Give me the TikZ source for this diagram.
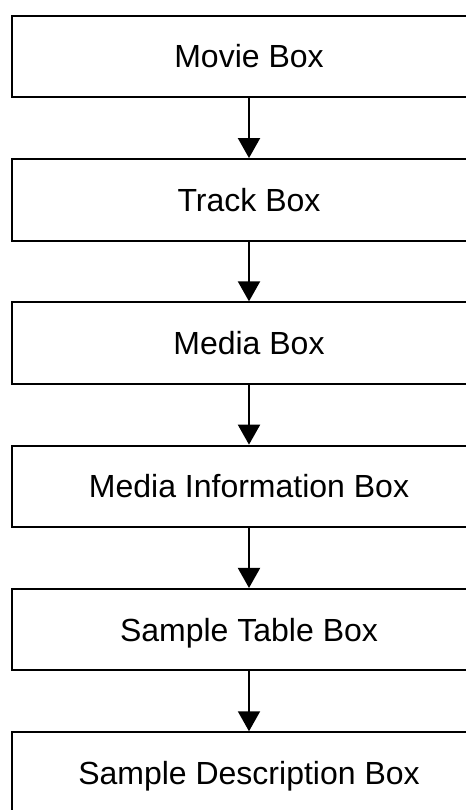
\documentclass[tikz,border=0pt]{standalone}
\usepackage{fontspec}
\setmainfont{Liberation Sans}
\usepackage{tikz}
\usetikzlibrary{arrows.meta}

\begin{document}
\begin{tikzpicture}[x=0.5pt,y=-0.5pt]

%
% Styles
%
\tikzstyle{atombox} = [draw=black,line width=1pt,minimum width=237pt,minimum height=40.75pt,inner sep=0pt,
                       text height=11.45pt,text depth=0pt,font=\fontsize{16}{19}\selectfont]
\tikzstyle{edge}    = [-{Triangle[width=11pt,length=10pt]},line width=1pt]

\useasboundingbox (0,0) rectangle (466,810);

\node[atombox] (moov) at (249,  56.5) {Movie Box};
\node[atombox] (trak) at (249, 199.8) {Track Box};
\node[atombox] (mdia) at (249, 343.1) {Media Box};
\node[atombox] (minf) at (249, 486.4) {Media Information Box};
\node[atombox] (stbl) at (249, 629.7) {Sample Table Box};
\node[atombox] (stsd) at (249, 773.0) {Sample Description Box};

\draw[edge] (moov) -- (trak);
\draw[edge] (trak) -- (mdia);
\draw[edge] (mdia) -- (minf);
\draw[edge] (minf) -- (stbl);
\draw[edge] (stbl) -- (stsd);

\end{tikzpicture}
\end{document}
